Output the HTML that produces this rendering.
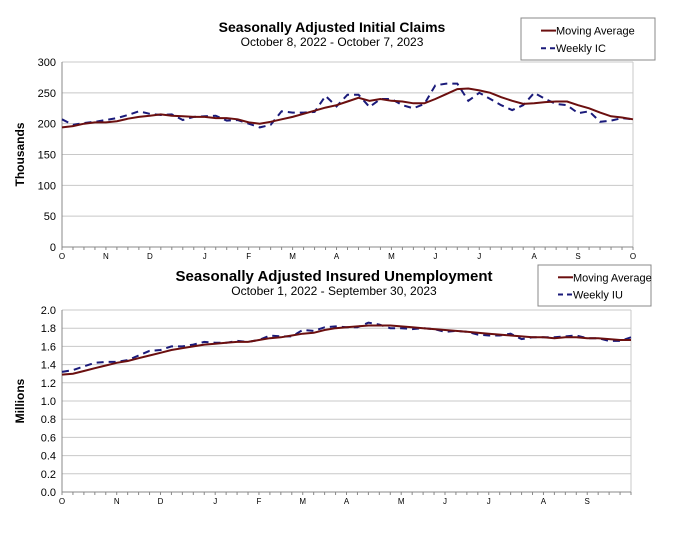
<!DOCTYPE html>
<html><head><meta charset="utf-8"><style>
body{margin:0;background:#fff;width:689px;height:545px;overflow:hidden;font-family:"Liberation Sans",Arial,sans-serif}
svg text{font-family:"Liberation Sans",Arial,sans-serif}
</style></head><body>
<svg id="svg" width="689" height="545" viewBox="0 0 689 545">
<g id="c1"></g>
<g id="c2"></g>
</svg>
<script>
const icMonths=["O","N","D","J","F","M","A","M","J","J","A","S","O"];
const icMonthWeek=[0,4,8,13,17,21,25,30,34,38,43,47,52];
const icTicks=[0,50,100,150,200,250,300];
const icWeekly=[207,198,201,203,206,209,214,220,216,214,215,206,211,212,213,205,206,200,194,198,220,218,218,219,245,228,247,247,227,240,240,230,225,232,262,265,265,237,250,240,230,222,230,250,240,232,230,217,220,203,205,209,207];
const icMA=[194,196,200,202,202,204,208,211,213,215,213,212,211,211,209,209,207,202,200,203,207,211,216,221,226,230,236,242,237,240,237,236,233,233,240,248,256,257,254,250,243,237,232,233,235,236,236,230,225,218,212,210,207];
const iuMonths=["O","N","D","J","F","M","A","M","J","J","A","S"];
const iuMonthWeek=[0,5,9,14,18,22,26,31,35,39,44,48];
const iuTicks=[0,0.2,0.4,0.6,0.8,1.0,1.2,1.4,1.6,1.8,2.0];
const iuWeekly=[1.32,1.34,1.38,1.42,1.43,1.43,1.45,1.50,1.55,1.56,1.60,1.60,1.62,1.65,1.64,1.64,1.66,1.65,1.67,1.72,1.71,1.71,1.78,1.77,1.81,1.82,1.81,1.81,1.86,1.84,1.80,1.80,1.79,1.80,1.79,1.76,1.77,1.76,1.73,1.72,1.72,1.74,1.68,1.70,1.70,1.70,1.71,1.72,1.69,1.69,1.66,1.66,1.70];
const iuMA=[1.29,1.30,1.33,1.36,1.39,1.42,1.44,1.47,1.50,1.53,1.56,1.58,1.60,1.62,1.63,1.64,1.65,1.65,1.67,1.69,1.70,1.72,1.74,1.75,1.78,1.80,1.81,1.82,1.83,1.83,1.83,1.82,1.81,1.80,1.79,1.78,1.77,1.76,1.75,1.74,1.73,1.72,1.71,1.70,1.70,1.69,1.70,1.70,1.69,1.69,1.68,1.67,1.67];
const NS="http://www.w3.org/2000/svg";
function mk(p,t,a,txt){const e=document.createElementNS(NS,t);for(const k in a)e.setAttribute(k,a[k]);if(txt!==undefined)e.textContent=txt;p.appendChild(e);return e;}
function chart(g,o){
 const n=o.weekly.length;
 const x=i=>o.x0+(o.x1-o.x0)*i/(n-1);
 const y=v=>o.y1-(o.y1-o.y0)*(v-o.min)/(o.max-o.min);
 o.ticks.forEach(t=>{
  const l=mk(g,"line",{x1:o.x0,x2:o.x1,y1:y(t),y2:y(t),stroke:"#c8c8c8","stroke-width":1});
  
  const tx=mk(g,"text",{x:o.x0-6,y:y(t)+4,"text-anchor":"end","font-size":11,fill:"#000"},o.fmt(t));
  
 });
 mk(g,"line",{x1:o.x1,x2:o.x1,y1:o.y0,y2:o.y1,stroke:"#c8c8c8"});
 const ax=mk(g,"line",{x1:o.x0,x2:o.x0,y1:o.y0,y2:o.y1,stroke:"#888"});
 
 const bx=mk(g,"line",{x1:o.x0,x2:o.x1,y1:o.y1,y2:o.y1,stroke:"#888"});
 
 for(let i=0;i<n;i++){mk(g,"line",{x1:x(i),x2:x(i),y1:o.y1,y2:o.y1+3,stroke:"#888"});}
 o.months.forEach((m,k)=>{
  const t=mk(g,"text",{x:x(o.monthWeek[k]),y:o.y1+12,"text-anchor":"middle","font-size":8,fill:"#000"},m);
  
 });
 const yt=mk(g,"text",{x:0,y:0,"font-size":12,"font-weight":"bold","text-anchor":"middle",transform:`translate(${o.x0-38},${(o.y0+o.y1)/2}) rotate(-90)`},o.ylabel);
 
 const pm=o.ma.map((v,i)=>x(i).toFixed(1)+","+y(v).toFixed(1)).join(" ");
 const pw=o.weekly.map((v,i)=>x(i).toFixed(1)+","+y(v).toFixed(1)).join(" ");
 const l1=mk(g,"polyline",{points:pw,fill:"none",stroke:"#1a1a7a","stroke-width":2,"stroke-dasharray":"7,5"});
 
 const l2=mk(g,"polyline",{points:pm,fill:"none",stroke:"#6b0f0f","stroke-width":2});
 
 const t1=mk(g,"text",{x:o.tx,y:o.ty,"text-anchor":"middle","font-size":o.tfs,"font-weight":"bold"},o.title);
 
 const t2=mk(g,"text",{x:o.tx,y:o.ty+14,"text-anchor":"middle","font-size":12},o.sub);
 
 const L=o.leg;
 const lg=mk(g,"g",{});
 
 mk(lg,"rect",{x:L.x,y:L.y,width:L.w,height:L.h,fill:"#fff",stroke:"#888"});
 mk(lg,"line",{x1:L.x+20,x2:L.x+35,y1:L.y+L.h*0.3,y2:L.y+L.h*0.3,stroke:"#6b0f0f","stroke-width":2});
 mk(lg,"text",{x:L.x+35,y:L.y+L.h*0.3+4,"font-size":11},"Moving Average");
 mk(lg,"line",{x1:L.x+20,x2:L.x+35,y1:L.y+L.h*0.72,y2:L.y+L.h*0.72,stroke:"#1a1a7a","stroke-width":2,"stroke-dasharray":"5,4"});
 mk(lg,"text",{x:L.x+35,y:L.y+L.h*0.72+4,"font-size":11},o.wlabel);
}
chart(document.getElementById("c1"),{x0:62,x1:633,y0:62,y1:247,min:0,max:300,ticks:icTicks,fmt:t=>String(t),
 weekly:icWeekly,ma:icMA,months:icMonths,monthWeek:icMonthWeek,ylabel:"Thousands",
 title:"Seasonally Adjusted Initial Claims",sub:"October 8, 2022 - October 7, 2023",tx:332,ty:32,tfs:14,
 leg:{x:521,y:18,w:134,h:42},wlabel:"Weekly IC"});
chart(document.getElementById("c2"),{x0:62,x1:631,y0:310,y1:492,min:0,max:2,ticks:iuTicks,fmt:t=>t.toFixed(1),
 weekly:iuWeekly,ma:iuMA,months:iuMonths,monthWeek:iuMonthWeek,ylabel:"Millions",
 title:"Seasonally Adjusted Insured Unemployment",sub:"October 1, 2022 - September 30, 2023",tx:334,ty:281,tfs:15,
 leg:{x:538,y:265,w:113,h:41},wlabel:"Weekly IU"});
</script>
</body></html>
